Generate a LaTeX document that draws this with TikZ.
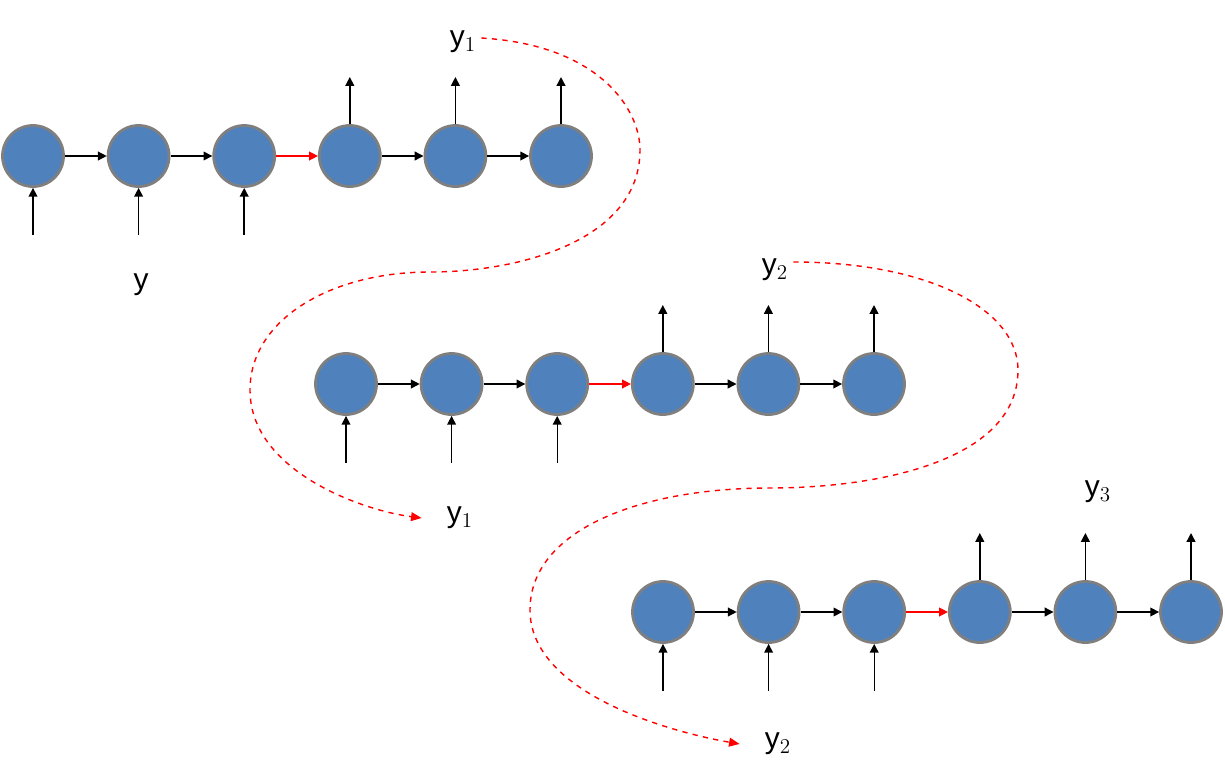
\documentclass[tikz,border=0pt]{standalone}
\usepackage{fontspec}
\setmainfont{Liberation Sans}
\usetikzlibrary{arrows.meta,positioning}

\tikzset{
  cell/.style={circle, fill={rgb,255:red,79;green,129;blue,189}, draw={rgb,255:red,127;green,127;blue,127}, line width=1.6pt, minimum size=1.22cm, inner sep=0pt},
  link/.style={-{Triangle[length=5pt,width=5pt]}, line width=0.8pt},
  feed/.style={link, red},
  loopback/.style={red, dashed, line width=0.8pt, -{Triangle[length=6pt,width=5pt]}},
  lbl/.style={font=\fontsize{17}{20}\selectfont, inner sep=0pt}
}

\begin{document}
\begin{tikzpicture}[x=0.02cm, y=-0.02cm]
\useasboundingbox (0,0) rectangle (1225,782);
% three unrolled chains
\foreach \row/\xo/\yo in {a/33/156, b/346/384, c/663/612} {
  \foreach \i in {1,...,6}
    \node[cell] (\row\i) at ({\xo+(\i-1)*105.6}, \yo) {};
  \foreach \i/\j in {1/2, 2/3, 4/5, 5/6}
    \draw[link] (\row\i) -- (\row\j);
  \draw[feed] (\row3) -- (\row4);
  \foreach \i in {1,2,3} {
    \coordinate (\row in\i) at ([yshift=-1.58cm]\row\i.center);
    \draw[link] (\row in\i) -- (\row\i);
  }
  \foreach \i in {4,5,6} {
    \coordinate (\row out\i) at ([yshift=1.58cm]\row\i.center);
    \draw[link] (\row\i) -- (\row out\i);
  }
}
% labels
\node[lbl] (ya) at (141,285) {y};
\node[lbl] (y1top) at (463,42) {y$_1$};
\node[lbl] (y2top) at (775,270) {y$_2$};
\node[lbl] (y1in) at (460,518) {y$_1$};
\node[lbl] (y3top) at (1098,492) {y$_3$};
\node[lbl] (y2in) at (778,744) {y$_2$};
% feedback of outputs
\draw[loopback] (y1top.east) ++(5,-4) .. controls (600,45) and (640,110) .. (640,150)
  .. controls (640,240) and (520,272) .. (430,272)
  .. controls (330,272) and (250,320) .. (250,390)
  .. controls (250,470) and (360,510) .. ([xshift=-0.5cm]y1in.west);
\draw[loopback] (y2top.east) ++(5,-8) .. controls (930,262) and (1018,310) .. (1018,370)
  .. controls (1018,460) and (880,488) .. (770,488)
  .. controls (640,488) and (530,530) .. (530,610)
  .. controls (530,690) and (660,730) .. ([xshift=-0.5cm]y2in.west);
\end{tikzpicture}
\end{document}
